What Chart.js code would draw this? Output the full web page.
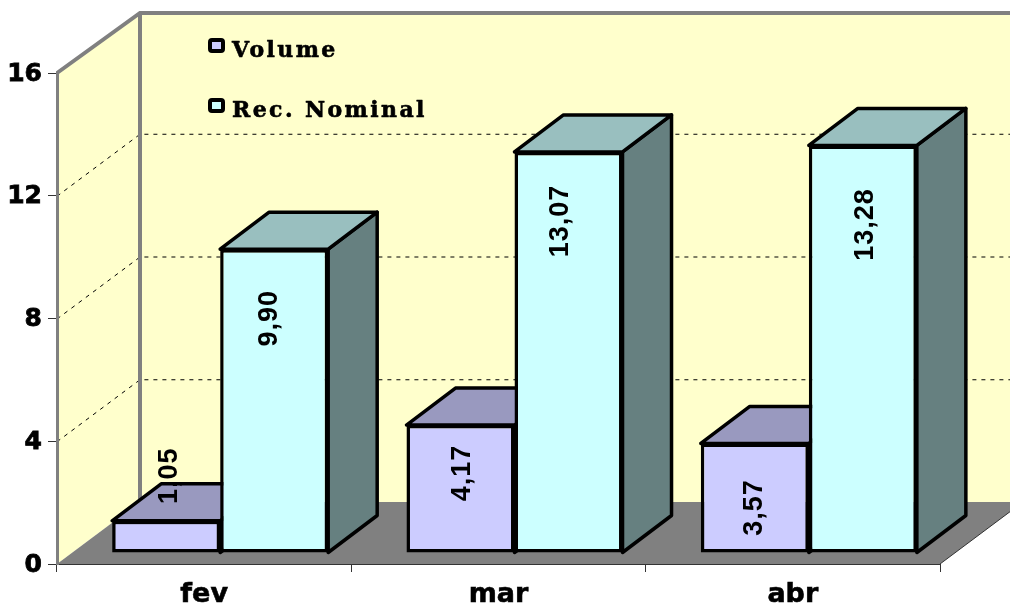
<!DOCTYPE html>
<html><head><meta charset="utf-8">
<script src="https://cdn.jsdelivr.net/npm/chart.js@4"></script>
<style>html,body{margin:0;padding:0;background:#fff;overflow:hidden}canvas{display:block}</style>
</head><body><canvas id="c" width="1010" height="605"></canvas>
<script>
const categories = ['fev', 'mar', 'abr'];
const volume = [1.05, 4.17, 3.57];
const recNominal = [9.90, 13.07, 13.28];
const seriesNames = ['Volume', 'Rec. Nominal'];
const yTicks = [0, 4, 8, 12, 16];

const WALL = {dx: 83, dy: -60, floorDy: -62};
const BAR_SHIFT = {dx: 16, dy: -11};
const BAR_DEPTH = {dx: 49, dy: -37};
const LABEL_NUDGE = [
  [{x: 3, y: -45}, {x: 2, y: 48}, {x: 0, y: 64}],
  [{x: -5, y: 69}, {x: -8, y: 69}, {x: 3, y: 79}]
];
const COLORS = [
  {front: '#CCCCFF', top: '#9999BF', side: '#666680'},
  {front: '#CCFFFF', top: '#99BFBF', side: '#668080'}
];

function poly(ctx, pts, fill, stroke, w) {
  ctx.beginPath();
  pts.forEach((p, i) => i ? ctx.lineTo(p[0], p[1]) : ctx.moveTo(p[0], p[1]));
  ctx.closePath();
  if (fill) { ctx.fillStyle = fill; ctx.fill(); }
  if (stroke) { ctx.strokeStyle = stroke; ctx.lineWidth = w; ctx.lineJoin = 'round'; ctx.stroke(); }
}

const chart3d = {
  id: 'chart3d',
  beforeDraw(chart) {
    const {ctx, chartArea: a, scales: {y}} = chart;
    const W = chart.width;
    const bx = a.left + WALL.dx, by = a.bottom + WALL.floorDy, ty = a.top + WALL.dy;
    const edgeY = a.bottom + (W - a.right) * WALL.floorDy / WALL.dx;
    ctx.save();
    poly(ctx, [[a.left, a.top], [bx, ty], [W, ty], [W, by], [bx, by], [a.left, a.bottom]], '#FFFFCC');
    poly(ctx, [[a.left, a.bottom], [bx, by], [W, by], [W, edgeY], [a.right, a.bottom]], '#808080');
    ctx.lineWidth = 1; ctx.strokeStyle = '#000'; ctx.setLineDash([4, 5]);
    yTicks.slice(1, -1).forEach(v => {
      const p = y.getPixelForValue(v);
      ctx.beginPath(); ctx.moveTo(a.left, p + .5); ctx.lineTo(bx, p + WALL.floorDy + .5); ctx.lineTo(W, p + WALL.floorDy + .5); ctx.stroke();
    });
    ctx.setLineDash([]);
    ctx.strokeStyle = '#808080'; ctx.lineWidth = 4; ctx.lineJoin = 'miter';
    ctx.beginPath(); ctx.moveTo(a.left, a.top); ctx.lineTo(bx, ty); ctx.lineTo(W, ty); ctx.moveTo(bx, ty); ctx.lineTo(bx, by); ctx.stroke();
    ctx.strokeStyle = '#333'; ctx.lineWidth = 1;
    ctx.beginPath(); ctx.moveTo(a.right, a.bottom); ctx.lineTo(W, edgeY); ctx.stroke();
    ctx.restore();
  },
  beforeDatasetDraw() { return false; },
  afterDatasetsDraw(chart) {
    const ctx = chart.ctx, d = BAR_DEPTH;
    ctx.save();
    ctx.translate(BAR_SHIFT.dx, BAR_SHIFT.dy);
    chart.data.datasets.forEach((ds, i) => {
      const meta = chart.getDatasetMeta(i), c = COLORS[i];
      meta.data.forEach(el => {
        const p = el.getProps(['x', 'y', 'base', 'width'], true);
        const l = p.x - p.width / 2, r = p.x + p.width / 2, t = p.y, b = p.base;
        poly(ctx, [[r, t], [r + d.dx, t + d.dy], [r + d.dx, b + d.dy], [r, b]], c.side, '#000', 3.5);
        poly(ctx, [[l, t], [l + d.dx, t + d.dy], [r + d.dx, t + d.dy], [r, t]], c.top, '#000', 3.5);
      });
      meta.controller.draw();
    });
    ctx.restore();
    ctx.save();
    ctx.fillStyle = '#000';
    ctx.font = 'bold 27px "Liberation Sans"';
    ctx.letterSpacing = '1px';
    ctx.textAlign = 'center'; ctx.textBaseline = 'middle';
    chart.data.datasets.forEach((ds, i) => {
      chart.getDatasetMeta(i).data.forEach((el, j) => {
        const n = LABEL_NUDGE[i][j];
        ctx.save();
        ctx.translate(el.x + BAR_SHIFT.dx + n.x, el.y + BAR_SHIFT.dy + n.y);
        ctx.rotate(-Math.PI / 2);
        ctx.fillText(ds.data[j].toFixed(2).replace('.', ','), 0, 0);
        ctx.restore();
      });
    });
    // legend
    ctx.textAlign = 'left'; ctx.textBaseline = 'alphabetic';
    ctx.font = 'bold 22px "DejaVu Serif"';
    ctx.letterSpacing = '2.4px';
    const a = chart.chartArea;
    chart.data.datasets.forEach((ds, i) => {
      const top = a.top - 33 + i * 60;
      ctx.beginPath(); ctx.roundRect(a.left + 153, top, 13, 11, 2);
      ctx.fillStyle = COLORS[i].front; ctx.fill();
      ctx.strokeStyle = '#000'; ctx.lineWidth = 4; ctx.stroke();
      ctx.fillStyle = '#000';
      ctx.fillText(ds.label, a.left + 175, top + 17);
      ctx.lineWidth = 0.6; ctx.lineJoin = 'round';
      ctx.strokeText(ds.label, a.left + 175, top + 17);
    });
    ctx.restore();
  }
};

new Chart(document.getElementById('c'), {
  type: 'bar',
  data: {
    labels: categories,
    datasets: [
      {label: seriesNames[0], data: volume, backgroundColor: COLORS[0].front, borderColor: '#000', borderWidth: 3.5, borderSkipped: false},
      {label: seriesNames[1], data: recNominal, backgroundColor: COLORS[1].front, borderColor: '#000', borderWidth: 3.5, borderSkipped: false}
    ]
  },
  options: {
    responsive: false, animation: false,
    layout: {padding: {top: 73, right: 70, left: 0, bottom: 0}},
    datasets: {bar: {categoryPercentage: 0.734, barPercentage: 1}},
    plugins: {legend: {display: false}, title: {display: false}, tooltip: {enabled: false}},
    scales: {
      x: {
        afterFit(s) { s.height = 41; },
        border: {color: '#333', width: 1},
        grid: {drawOnChartArea: false, color: '#333', tickLength: 8, lineWidth: 1},
        ticks: {color: '#000', font: {family: '"DejaVu Sans"', weight: 'bold', size: 27}, padding: 7, maxRotation: 0, textStrokeColor: '#000', textStrokeWidth: 0.6}
      },
      y: {
        min: 0, max: 16,
        afterFit(s) { s.width = 57; },
        afterBuildTicks(s) { s.ticks = yTicks.map(v => ({value: v})); },
        border: {color: '#808080', width: 3},
        grid: {drawOnChartArea: false, color: '#333', tickLength: 9, lineWidth: 1},
        ticks: {color: '#000', font: {family: '"DejaVu Sans"', weight: 'bold', size: 25}, padding: 6, labelOffset: 1, textStrokeColor: '#000', textStrokeWidth: 0.8}
      }
    }
  },
  plugins: [chart3d]
});
</script></body></html>
